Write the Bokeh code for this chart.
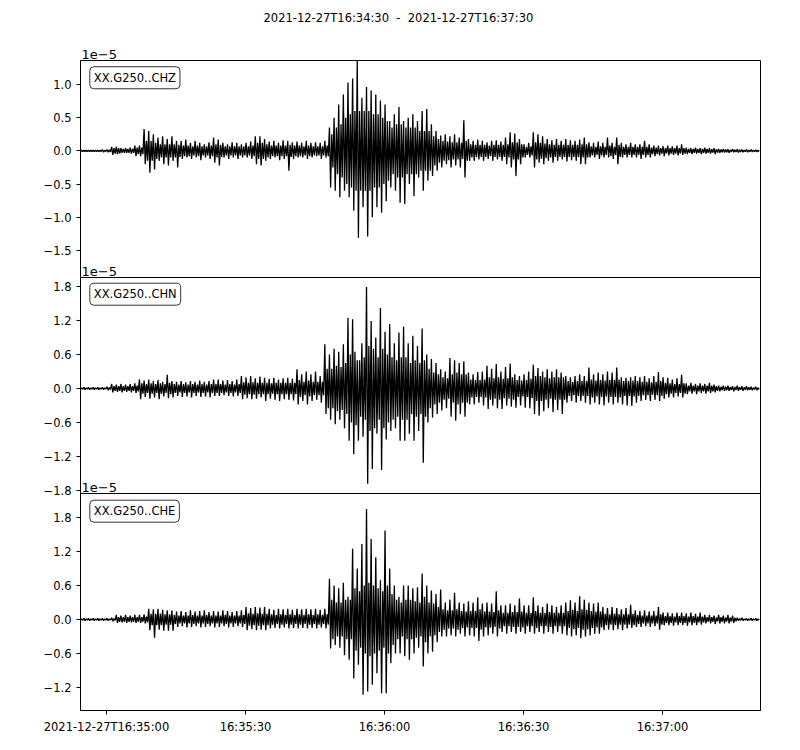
import numpy as np
from bokeh.plotting import figure
from bokeh.layouts import column
from bokeh.models import Range1d, FixedTicker, CustomJSTickFormatter, Label, Title, LinearAxis
from bokeh.embed import file_html
from bokeh.resources import INLINE

TITLE = "2021-12-27T16:34:30\u00a0 -\u00a0 2021-12-27T16:37:30"
CHANNELS = ["XX.G250..CHZ", "XX.G250..CHN", "XX.G250..CHE"]
OFFSET_TEXT = "1e\u22125"
X_TICKS = [0, 30, 60, 90, 120]   # seconds after 16:35:00
X_LABELS = ["2021-12-27T16:35:00", "16:35:30", "16:36:00", "16:36:30", "16:37:00"]
T_START = -5.5   # first envelope sample (s after 16:35:00), 1 s apart
X_LIMITS = (-5.6, 141.15)

# per second: upper peak, lower peak, and amplitude of the dense core band (units of 1e-5)
CHZ_UP = [0.01,0.01,0.01,0.01,0.01,0.02,0.02,0.06,0.06,0.04,
          0.04,0.05,0.08,0.08,0.33,0.30,0.25,0.20,0.22,0.18,
          0.22,0.15,0.15,0.17,0.12,0.15,0.12,0.10,0.13,0.20,
          0.17,0.12,0.10,0.13,0.12,0.10,0.12,0.14,0.22,0.22,
          0.18,0.14,0.15,0.12,0.16,0.15,0.13,0.14,0.12,0.15,
          0.12,0.13,0.12,0.15,0.35,0.50,0.70,0.85,1.03,1.09,
          1.36,0.80,0.96,0.91,0.85,0.76,0.70,0.45,0.55,0.66,
          0.45,0.50,0.55,0.45,0.60,0.63,0.40,0.30,0.23,0.25,
          0.22,0.25,0.20,0.46,0.18,0.15,0.17,0.15,0.13,0.15,
          0.16,0.14,0.20,0.28,0.26,0.18,0.10,0.12,0.28,0.25,
          0.22,0.18,0.16,0.18,0.15,0.18,0.16,0.15,0.17,0.20,
          0.13,0.12,0.14,0.12,0.20,0.12,0.20,0.12,0.10,0.12,
          0.10,0.10,0.15,0.10,0.08,0.08,0.07,0.08,0.07,0.08,
          0.10,0.05,0.04,0.05,0.04,0.05,0.04,0.04,0.03,0.03,
          0.025,0.03,0.025,0.02,0.02,0.02,0.015]
CHZ_LO = [-0.01,-0.01,-0.01,-0.01,-0.01,-0.02,-0.02,-0.06,-0.05,-0.03,
          -0.03,-0.04,-0.08,-0.08,-0.20,-0.33,-0.28,-0.15,-0.20,-0.22,
          -0.15,-0.25,-0.12,-0.10,-0.12,-0.10,-0.14,-0.10,-0.12,-0.18,
          -0.22,-0.10,-0.12,-0.10,-0.12,-0.10,-0.10,-0.12,-0.20,-0.22,
          -0.15,-0.12,-0.10,-0.14,-0.12,-0.30,-0.12,-0.10,-0.10,-0.12,
          -0.10,-0.08,-0.12,-0.10,-0.55,-0.60,-0.70,-0.60,-0.70,-0.90,
          -1.31,-0.85,-1.29,-1.00,-0.85,-0.93,-0.76,-0.55,-0.60,-0.78,
          -0.80,-0.50,-0.68,-0.40,-0.60,-0.45,-0.38,-0.30,-0.25,-0.20,
          -0.25,-0.22,-0.25,-0.40,-0.15,-0.15,-0.13,-0.15,-0.12,-0.15,
          -0.13,-0.15,-0.20,-0.25,-0.38,-0.20,-0.10,-0.10,-0.25,-0.18,
          -0.20,-0.15,-0.18,-0.15,-0.13,-0.16,-0.14,-0.15,-0.20,-0.20,
          -0.10,-0.10,-0.12,-0.10,-0.10,-0.12,-0.20,-0.10,-0.10,-0.10,
          -0.10,-0.12,-0.10,-0.10,-0.08,-0.07,-0.08,-0.07,-0.06,-0.07,
          -0.06,-0.05,-0.05,-0.04,-0.05,-0.04,-0.04,-0.05,-0.03,-0.025,
          -0.03,-0.02,-0.025,-0.02,-0.02,-0.015,-0.015]
CHZ_CORE = [0.01,0.01,0.01,0.01,0.01,0.01,0.015,0.04,0.04,0.03,
            0.03,0.03,0.05,0.05,0.15,0.15,0.12,0.10,0.10,0.10,
            0.10,0.09,0.08,0.08,0.07,0.08,0.07,0.07,0.08,0.10,
            0.09,0.07,0.07,0.07,0.07,0.07,0.07,0.08,0.12,0.12,
            0.10,0.08,0.08,0.08,0.08,0.09,0.08,0.08,0.07,0.08,
            0.07,0.07,0.07,0.08,0.25,0.35,0.40,0.50,0.55,0.60,
            0.60,0.60,0.60,0.55,0.55,0.50,0.45,0.35,0.40,0.40,
            0.35,0.35,0.35,0.30,0.30,0.30,0.22,0.18,0.15,0.14,
            0.13,0.13,0.12,0.15,0.10,0.09,0.09,0.09,0.08,0.09,
            0.09,0.09,0.10,0.13,0.13,0.10,0.06,0.07,0.13,0.12,
            0.11,0.10,0.09,0.09,0.09,0.09,0.09,0.09,0.10,0.10,
            0.07,0.06,0.07,0.06,0.08,0.06,0.09,0.06,0.06,0.06,
            0.06,0.06,0.06,0.05,0.05,0.04,0.04,0.04,0.04,0.04,
            0.04,0.03,0.03,0.03,0.03,0.03,0.025,0.025,0.02,0.02,
            0.015,0.015,0.015,0.012,0.012,0.01,0.01]

CHN_UP = [0.02,0.02,0.02,0.02,0.02,0.02,0.03,0.08,0.07,0.08,
          0.07,0.08,0.09,0.16,0.14,0.16,0.13,0.15,0.12,0.24,
          0.13,0.12,0.13,0.11,0.13,0.12,0.14,0.12,0.13,0.16,
          0.16,0.14,0.15,0.13,0.16,0.22,0.20,0.22,0.18,0.21,
          0.19,0.17,0.19,0.16,0.18,0.19,0.17,0.34,0.25,0.30,
          0.25,0.30,0.22,0.78,0.60,0.70,0.65,0.78,1.25,1.22,
          0.50,0.80,1.79,1.19,0.90,1.42,1.00,1.14,0.80,0.99,
          1.09,0.80,0.93,0.75,1.06,0.60,0.52,0.45,0.34,0.30,
          0.54,0.50,0.45,0.48,0.28,0.25,0.29,0.30,0.40,0.35,
          0.43,0.30,0.38,0.44,0.25,0.22,0.25,0.30,0.42,0.36,
          0.30,0.34,0.30,0.34,0.28,0.22,0.20,0.22,0.25,0.22,
          0.37,0.25,0.28,0.25,0.30,0.28,0.37,0.20,0.19,0.20,
          0.22,0.20,0.22,0.18,0.22,0.29,0.20,0.19,0.16,0.18,
          0.24,0.09,0.10,0.08,0.09,0.08,0.10,0.07,0.05,0.05,
          0.05,0.04,0.05,0.04,0.04,0.03,0.03]
CHN_LO = [-0.02,-0.02,-0.02,-0.02,-0.02,-0.02,-0.03,-0.07,-0.06,-0.07,
          -0.06,-0.07,-0.08,-0.19,-0.15,-0.18,-0.16,-0.19,-0.14,-0.17,
          -0.16,-0.13,-0.15,-0.14,-0.16,-0.13,-0.15,-0.14,-0.16,-0.13,
          -0.13,-0.12,-0.13,-0.14,-0.13,-0.19,-0.17,-0.19,-0.18,-0.16,
          -0.22,-0.18,-0.20,-0.22,-0.19,-0.20,-0.21,-0.28,-0.22,-0.28,
          -0.22,-0.20,-0.25,-0.45,-0.55,-0.63,-0.55,-0.70,-0.92,-1.16,
          -0.92,-0.85,-1.68,-1.42,-0.80,-1.44,-0.90,-0.75,-0.70,-0.92,
          -0.92,-0.80,-0.92,-0.75,-1.31,-0.60,-0.51,-0.45,-0.39,-0.35,
          -0.50,-0.57,-0.45,-0.50,-0.28,-0.28,-0.25,-0.30,-0.36,-0.30,
          -0.35,-0.36,-0.30,-0.32,-0.34,-0.30,-0.34,-0.35,-0.45,-0.48,
          -0.40,-0.35,-0.42,-0.38,-0.45,-0.25,-0.22,-0.25,-0.22,-0.25,
          -0.28,-0.25,-0.28,-0.30,-0.25,-0.28,-0.25,-0.28,-0.30,-0.31,
          -0.25,-0.22,-0.20,-0.22,-0.20,-0.22,-0.18,-0.16,-0.16,-0.14,
          -0.16,-0.10,-0.09,-0.10,-0.08,-0.09,-0.08,-0.07,-0.05,-0.04,
          -0.04,-0.05,-0.04,-0.04,-0.03,-0.03,-0.03]
CHN_CORE = [0.01,0.01,0.01,0.01,0.01,0.01,0.015,0.04,0.04,0.04,
            0.04,0.04,0.05,0.09,0.08,0.09,0.08,0.09,0.08,0.10,
            0.08,0.07,0.08,0.07,0.08,0.07,0.08,0.07,0.08,0.08,
            0.08,0.07,0.08,0.07,0.08,0.11,0.10,0.11,0.10,0.10,
            0.10,0.09,0.10,0.10,0.10,0.10,0.10,0.15,0.12,0.14,
            0.12,0.12,0.12,0.35,0.35,0.40,0.38,0.45,0.60,0.65,
            0.50,0.55,0.75,0.70,0.55,0.70,0.60,0.55,0.50,0.55,
            0.55,0.45,0.50,0.45,0.50,0.35,0.28,0.25,0.20,0.18,
            0.25,0.28,0.25,0.25,0.16,0.15,0.15,0.16,0.20,0.18,
            0.20,0.17,0.18,0.20,0.15,0.14,0.15,0.17,0.22,0.22,
            0.20,0.18,0.20,0.20,0.20,0.13,0.12,0.13,0.13,0.13,
            0.16,0.14,0.15,0.14,0.15,0.15,0.16,0.13,0.13,0.14,
            0.13,0.12,0.12,0.11,0.12,0.13,0.10,0.09,0.08,0.08,
            0.09,0.05,0.05,0.05,0.05,0.05,0.05,0.04,0.03,0.03,
            0.025,0.025,0.025,0.02,0.02,0.015,0.015]

CHE_UP = [0.02,0.02,0.02,0.02,0.02,0.02,0.02,0.03,0.08,0.07,
          0.08,0.07,0.08,0.08,0.09,0.19,0.18,0.19,0.17,0.16,
          0.16,0.14,0.15,0.13,0.16,0.14,0.15,0.16,0.13,0.15,
          0.14,0.16,0.15,0.13,0.15,0.16,0.22,0.20,0.22,0.21,
          0.22,0.19,0.17,0.19,0.18,0.19,0.17,0.19,0.18,0.19,
          0.18,0.19,0.17,0.19,0.72,0.60,0.55,0.65,0.40,1.25,
          0.90,1.33,1.95,1.42,1.10,0.69,1.57,0.90,0.60,0.40,
          0.60,0.60,0.55,0.57,0.81,0.60,0.51,0.45,0.53,0.30,
          0.35,0.47,0.30,0.28,0.32,0.30,0.39,0.28,0.30,0.28,
          0.50,0.25,0.25,0.28,0.25,0.37,0.25,0.25,0.39,0.25,
          0.22,0.28,0.25,0.22,0.25,0.30,0.34,0.30,0.41,0.35,
          0.30,0.28,0.30,0.22,0.20,0.22,0.20,0.18,0.20,0.26,
          0.16,0.15,0.16,0.14,0.15,0.22,0.12,0.12,0.11,0.12,
          0.12,0.11,0.12,0.10,0.12,0.08,0.08,0.07,0.08,0.07,
          0.08,0.07,0.03,0.03,0.02,0.02,0.02]
CHE_LO = [-0.02,-0.02,-0.02,-0.02,-0.02,-0.02,-0.02,-0.03,-0.06,-0.05,
          -0.06,-0.05,-0.06,-0.06,-0.07,-0.19,-0.32,-0.18,-0.20,-0.20,
          -0.20,-0.13,-0.12,-0.14,-0.13,-0.12,-0.14,-0.13,-0.12,-0.14,
          -0.13,-0.12,-0.14,-0.13,-0.12,-0.13,-0.19,-0.17,-0.19,-0.18,
          -0.19,-0.16,-0.15,-0.16,-0.14,-0.16,-0.15,-0.16,-0.15,-0.16,
          -0.15,-0.16,-0.14,-0.16,-0.51,-0.45,-0.50,-0.63,-0.71,-1.04,
          -0.80,-1.33,-1.27,-1.15,-0.95,-1.30,-1.30,-0.77,-0.60,-0.60,
          -0.65,-0.71,-0.60,-0.50,-0.83,-0.60,-0.57,-0.40,-0.30,-0.30,
          -0.28,-0.30,-0.25,-0.30,-0.28,-0.30,-0.38,-0.30,-0.28,-0.25,
          -0.30,-0.22,-0.25,-0.22,-0.25,-0.22,-0.25,-0.22,-0.25,-0.22,
          -0.25,-0.22,-0.25,-0.22,-0.25,-0.28,-0.30,-0.28,-0.33,-0.30,
          -0.28,-0.25,-0.25,-0.19,-0.18,-0.19,-0.17,-0.19,-0.16,-0.15,
          -0.13,-0.13,-0.12,-0.13,-0.12,-0.18,-0.10,-0.10,-0.11,-0.10,
          -0.10,-0.11,-0.10,-0.10,-0.09,-0.07,-0.07,-0.08,-0.07,-0.07,
          -0.07,-0.06,-0.02,-0.02,-0.02,-0.02,-0.02]
CHE_CORE = [0.01,0.01,0.01,0.01,0.01,0.01,0.01,0.015,0.04,0.04,
            0.04,0.04,0.04,0.04,0.05,0.10,0.10,0.10,0.09,0.09,
            0.08,0.07,0.07,0.07,0.08,0.07,0.07,0.08,0.07,0.07,
            0.07,0.08,0.07,0.07,0.07,0.08,0.11,0.10,0.11,0.10,
            0.10,0.09,0.08,0.09,0.08,0.09,0.08,0.09,0.08,0.09,
            0.08,0.09,0.08,0.09,0.35,0.30,0.30,0.35,0.35,0.55,
            0.50,0.60,0.65,0.60,0.55,0.50,0.60,0.45,0.35,0.30,
            0.35,0.35,0.32,0.30,0.40,0.30,0.28,0.22,0.18,0.16,
            0.16,0.18,0.15,0.14,0.15,0.15,0.18,0.14,0.14,0.13,
            0.16,0.12,0.12,0.13,0.13,0.14,0.12,0.12,0.15,0.12,
            0.12,0.13,0.12,0.12,0.12,0.15,0.17,0.15,0.18,0.17,
            0.15,0.14,0.14,0.10,0.09,0.10,0.09,0.09,0.09,0.10,
            0.08,0.07,0.07,0.07,0.07,0.09,0.06,0.06,0.05,0.06,
            0.06,0.05,0.06,0.05,0.05,0.04,0.04,0.035,0.04,0.035,
            0.035,0.03,0.015,0.012,0.01,0.01,0.01]

Z_TICKS = [-1.5, -1.0, -0.5, 0.0, 0.5, 1.0]
N_TICKS = [-1.8, -1.2, -0.6, 0.0, 0.6, 1.2, 1.8]
E_TICKS = [-1.2, -0.6, 0.0, 0.6, 1.2, 1.8]
Y_LIMITS = [(-1.907, 1.361), (-1.853, 1.959), (-1.606, 2.223)]

FONT = "DejaVu Sans"
FS = "11.5px"

x_range = Range1d(*X_LIMITS)
fmt = CustomJSTickFormatter(code="return tick.toFixed(1).replace('-', '\u2212');")

# (up, lo, core, ticks, ylim, top border, frame height, bottom border, css margin-top)
specs = [
    (CHZ_UP, CHZ_LO, CHZ_CORE, Z_TICKS, Y_LIMITS[0], 80, 217, 20, -20),
    (CHN_UP, CHN_LO, CHN_CORE, N_TICKS, Y_LIMITS[1], 20, 216, 20, -40),
    (CHE_UP, CHE_LO, CHE_CORE, E_TICKS, Y_LIMITS[2], 20, 217, 32, -40),
]
figs = []
for k, (up, lo, core, ticks, ylim, top, fh, bot, mt) in enumerate(specs):
    last = (k == 2)
    p = figure(width=784, height=top + fh + bot, output_backend="svg",
               toolbar_location=None, x_range=x_range, y_range=Range1d(*ylim),
               x_axis_location="below" if last else None,
               min_border_left=80, min_border_right=24,
               min_border_top=top, min_border_bottom=bot,
               margin=(mt, 0, 0, 0))
    p.grid.visible = False
    p.background_fill_color = "white"
    p.border_fill_color = "white"
    p.border_fill_alpha = 1.0 if k == 0 else 0.0
    if k == 1:
        # middle panel: neighbours' outlines give its top and bottom edges
        p.background_fill_alpha = 0.0
        p.outline_line_color = None
        ra = LinearAxis(major_tick_line_color=None, minor_tick_line_color=None,
                        major_label_text_font_size="0px", axis_line_color="black")
        ra.ticker = FixedTicker(ticks=[])
        p.add_layout(ra, "right")
    else:
        p.outline_line_color = "black"
        p.outline_line_width = 1
        p.outline_line_alpha = 1

    t = T_START + np.arange(len(up))
    c = np.array(core)
    xs = np.column_stack([t - 0.375, t - 0.125, t + 0.125, t + 0.375]).ravel()
    ys = np.column_stack([np.array(up), np.array(lo), c, -c]).ravel()
    p.line(xs, ys, line_color="black", line_width=1.3)

    ya = p.yaxis[0]
    ya.ticker = FixedTicker(ticks=ticks)
    ya.formatter = fmt
    ya.minor_tick_line_color = None
    ya.major_tick_in = 0
    ya.major_tick_out = 4
    ya.major_label_standoff = 5
    ya.major_label_text_font = FONT
    ya.major_label_text_font_size = FS
    ya.major_label_text_color = "black"
    ya.axis_line_color = "black"
    if last:
        xa = p.xaxis[0]
        xa.ticker = FixedTicker(ticks=X_TICKS)
        xa.major_label_overrides = {tk: lb for tk, lb in zip(X_TICKS, X_LABELS)}
        xa.minor_tick_line_color = None
        xa.major_tick_in = 0
        xa.major_tick_out = 4
        xa.major_label_standoff = 5
        xa.major_label_text_font = FONT
        xa.major_label_text_font_size = FS
        xa.major_label_text_color = "black"
        xa.axis_line_color = "black"

    # station label box
    p.add_layout(Label(x=-3.59, y=[1.101, 1.664, 1.911][k], text=CHANNELS[k],
                       text_font=FONT, text_font_size=FS, text_color="black",
                       text_align="left", text_baseline="middle",
                       padding=4, border_radius=4,
                       border_line_color="#333333", border_line_width=1,
                       background_fill_color="white"))
    # offset text "1e-5" just above each panel
    p.add_layout(Title(text=OFFSET_TEXT, align="left", offset=1, standoff=4,
                       vertical_align="bottom", text_font=FONT,
                       text_font_size="13px", text_font_style="normal",
                       text_color="black"), "above")
    figs.append(p)

figs[0].add_layout(Title(text=TITLE, align="left", offset=183, standoff=38,
                         vertical_align="top", text_font=FONT,
                         text_font_size=FS, text_font_style="normal",
                         text_color="black"), "above")

layout = column(*figs, spacing=0)
open("out.html", "w").write(file_html(layout, INLINE))
